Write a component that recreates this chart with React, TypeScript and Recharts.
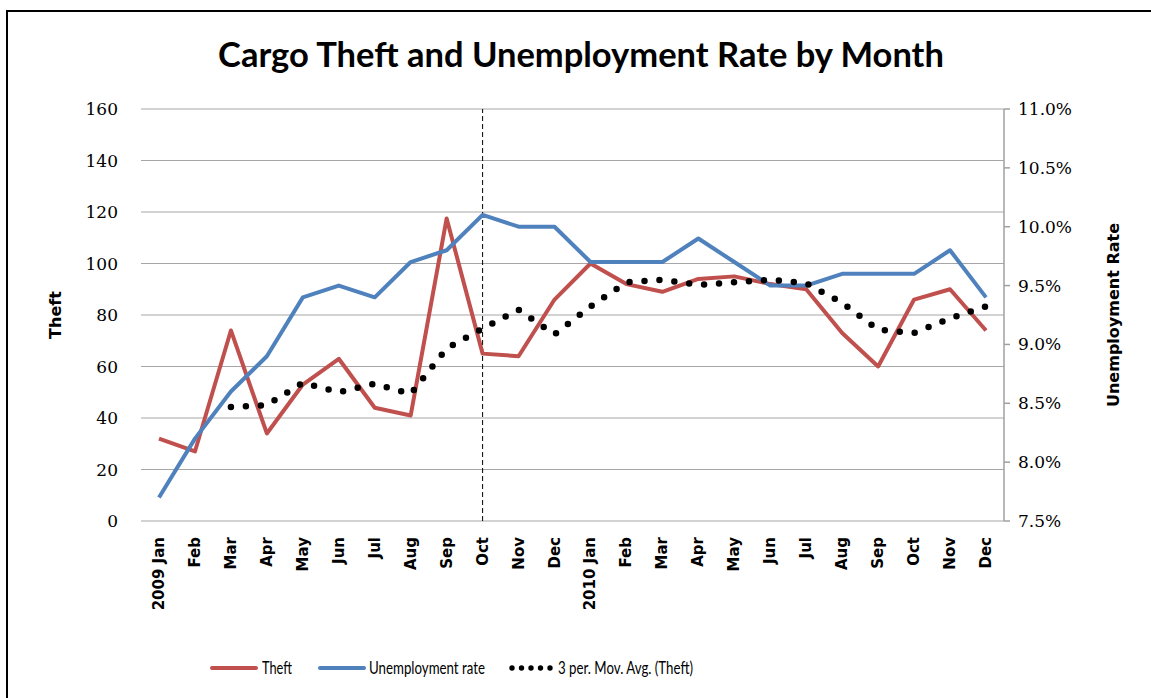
import React from 'react';
import {
  LineChart,
  Line,
  XAxis,
  YAxis,
  CartesianGrid,
  ReferenceLine,
  Legend,
} from 'recharts';

// ---- data ----
const monthKeys = [
  '2009-01', '2009-02', '2009-03', '2009-04', '2009-05', '2009-06',
  '2009-07', '2009-08', '2009-09', '2009-10', '2009-11', '2009-12',
  '2010-01', '2010-02', '2010-03', '2010-04', '2010-05', '2010-06',
  '2010-07', '2010-08', '2010-09', '2010-10', '2010-11', '2010-12',
];
const tickLabels = [
  '2009 Jan', 'Feb', 'Mar', 'Apr', 'May', 'Jun', 'Jul', 'Aug', 'Sep', 'Oct', 'Nov', 'Dec',
  '2010 Jan', 'Feb', 'Mar', 'Apr', 'May', 'Jun', 'Jul', 'Aug', 'Sep', 'Oct', 'Nov', 'Dec',
];
const theft = [32, 27, 74, 34, 53, 63, 44, 41, 117.5, 65, 64, 86, 100, 92, 89, 94, 95, 92, 90, 73, 60, 86, 90, 74];
const unemploymentRate = [7.7, 8.2, 8.6, 8.9, 9.4, 9.5, 9.4, 9.7, 9.8, 10.1, 10.0, 10.0, 9.7, 9.7, 9.7, 9.9, 9.7, 9.5, 9.5, 9.6, 9.6, 9.6, 9.8, 9.4];
const movingAvg = [null, null, 44.3, 45, 53.7, 50, 53.3, 49.3, 67, 74.7, 82, 72.5, 83.3, 92.7, 93.7, 91.7, 92.7, 93.7, 92.3, 84.7, 74.3, 73, 78.7, 83.3];
const leftTicks = [0, 20, 40, 60, 80, 100, 120, 140, 160];
const rightTicks = [7.5, 8.0, 8.5, 9.0, 9.5, 10.0, 10.5, 11.0];
const markerMonth = '2009-10';

const title = 'Cargo Theft and Unemployment Rate by Month';
const seriesNames = ['Theft', 'Unemployment rate', '3 per. Mov. Avg. (Theft)'];

const data = monthKeys.map((key, i) => ({
  key,
  label: tickLabels[i],
  theft: theft[i],
  unemployment: unemploymentRate[i],
  movAvg: movingAvg[i],
}));

const RED = '#C0504D';
const BLUE = '#4F81BD';
const GRID = '#A6A6A6';

const XTick = (props: any) => {
  const { x, y, payload, index } = props;
  const label = tickLabels[index] ?? payload.value;
  const ay = y + 16;
  return (
    <text
      x={x}
      y={ay}
      transform={`rotate(-90, ${x}, ${ay})`}
      textAnchor="end"
      dominantBaseline="central"
      fontFamily="DejaVu Sans"
      fontWeight="bold"
      fontSize={15}
      fill="#000"
    >
      {label}
    </text>
  );
};

// legend layout: [icon start, icon end, text start, text width]
const legendSlots = [
  [210, 258, 262, 30],
  [318, 366, 369, 116],
  [509, 553, 558, 135],
];

const LegendContent = () => {
  const cy = 12;
  return (
    <svg width={1151} height={24} style={{ display: 'block' }}>
      {seriesNames.map((name, i) => {
        const [x0, x1, tx, tw] = legendSlots[i];
        let icon;
        if (i < 2) {
          icon = (
            <line x1={x0 + 2} y1={cy} x2={x1 - 2} y2={cy} stroke={i === 0 ? RED : BLUE} strokeWidth={4} strokeLinecap="round" />
          );
        } else {
          icon = (
            <g>
              {[0, 1, 2, 3, 4].map((k) => (
                <circle key={k} cx={x0 + 3 + k * ((x1 - x0 - 6) / 4)} cy={cy} r={2.7} fill="#000" />
              ))}
            </g>
          );
        }
        return (
          <g key={name}>
            {icon}
            <text
              x={tx}
              y={cy}
              dominantBaseline="central"
              fontFamily="Lato"
              fontSize={16.5}
              fill="#000"
              textLength={tw}
              lengthAdjust="spacingAndGlyphs"
            >
              {name}
            </text>
          </g>
        );
      })}
    </svg>
  );
};

const LeftTitle = (props: any) => {
  const vb = props.viewBox || {};
  const cy = vb.y + vb.height / 2;
  const cx = 55;
  return (
    <text
      x={cx}
      y={cy}
      transform={`rotate(-90, ${cx}, ${cy})`}
      textAnchor="middle"
      dominantBaseline="central"
      fontFamily="DejaVu Sans"
      fontWeight="bold"
      fontSize={16}
      fill="#000"
    >
      Theft
    </text>
  );
};

const RightTitle = (props: any) => {
  const vb = props.viewBox || {};
  const cy = vb.y + vb.height / 2;
  const cx = 1113;
  return (
    <text
      x={cx}
      y={cy}
      transform={`rotate(-90, ${cx}, ${cy})`}
      textAnchor="middle"
      dominantBaseline="central"
      fontFamily="DejaVu Sans"
      fontWeight="bold"
      fontSize={16}
      fill="#000"
    >
      Unemployment Rate
    </text>
  );
};

export default function App() {
  return (
    <div style={{ position: 'fixed', left: 0, top: 0, width: 1151, height: 698, background: '#fff', overflow: 'hidden' }}>
      {/* frame */}
      <div style={{ position: 'absolute', left: 6, top: 10, width: 2, height: 700, background: '#000' }} />
      <div style={{ position: 'absolute', left: 6, top: 10, width: 1160, height: 2, background: '#000' }} />
      {/* title */}
      <svg width={1151} height={90} style={{ position: 'absolute', left: 0, top: 0 }}>
        <text x={581} y={67} textAnchor="middle" fontFamily="Lato" fontWeight="bold" fontSize={34.5} fill="#000">
          {title}
        </text>
      </svg>
      <div style={{ position: 'absolute', left: 0, top: 0 }}>
        <LineChart
          width={1151}
          height={698}
          data={data}
          margin={{ top: 109, right: 0, bottom: 0, left: 0 }}
        >
          <CartesianGrid yAxisId="left" vertical={false} stroke={GRID} strokeWidth={1} />
          <XAxis
            dataKey="key"
            type="category"
            interval={0}
            height={177}
            axisLine={false}
            tickLine={false}
            tickSize={0}
            tickMargin={0}
            padding={{ left: 18, right: 18 }}
            tick={<XTick />}
          />
          <YAxis
            yAxisId="left"
            orientation="left"
            width={141}
            domain={[0, 160]}
            ticks={leftTicks}
            interval={0}
            axisLine={false}
            tickLine={false}
            tickSize={0}
            tickMargin={23}
            tick={{ fontFamily: 'DejaVu Serif', fontSize: 17, fill: '#000' }}
            label={<LeftTitle />}
          />
          <YAxis
            yAxisId="right"
            orientation="right"
            width={147}
            domain={[7.5, 11]}
            ticks={rightTicks}
            interval={0}
            axisLine={{ stroke: '#A0A0A0', strokeWidth: 1.5 }}
            tickLine={{ stroke: '#A0A0A0', strokeWidth: 1.5 }}
            tickSize={6}
            tickMargin={8}
            tickFormatter={(v: number) => `${v.toFixed(1)}%`}
            tick={{ fontFamily: 'DejaVu Serif', fontSize: 17, fill: '#000' }}
            label={<RightTitle />}
          />
          <ReferenceLine
            yAxisId="left"
            x={markerMonth}
            stroke="#000"
            strokeWidth={1}
            strokeDasharray="5 3"
          />
          <Line
            yAxisId="left"
            type="linear"
            dataKey="theft"
            name={seriesNames[0]}
            stroke={RED}
            strokeWidth={4}
            strokeLinejoin="round"
            dot={false}
            activeDot={false}
            isAnimationActive={false}
          />
          <Line
            yAxisId="right"
            type="linear"
            dataKey="unemployment"
            name={seriesNames[1]}
            stroke={BLUE}
            strokeWidth={4}
            strokeLinejoin="round"
            dot={false}
            activeDot={false}
            isAnimationActive={false}
          />
          <Line
            yAxisId="left"
            type="linear"
            dataKey="movAvg"
            name={seriesNames[2]}
            stroke="#000"
            strokeWidth={6.5}
            strokeDasharray="0 15"
            strokeLinecap="round"
            dot={false}
            activeDot={false}
            connectNulls={false}
            isAnimationActive={false}
          />
          <Legend
            layout="horizontal"
            verticalAlign="middle"
            align="center"
            wrapperStyle={{ top: 656, left: 0, width: 1151, height: 24 }}
            content={<LegendContent />}
          />
        </LineChart>
      </div>
    </div>
  );
}
